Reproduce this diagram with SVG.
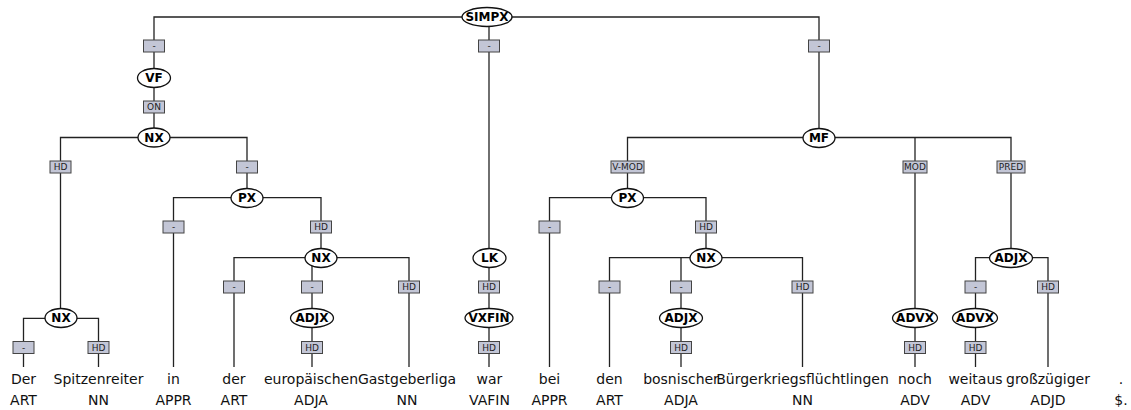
<svg xmlns="http://www.w3.org/2000/svg" width="1131" height="410" viewBox="0 0 1131 410">
<style>
.e{fill:none;stroke:#222;stroke-width:1.3}
.n ellipse{fill:#fff;stroke:#111;stroke-width:1.3}
.n text{font-family:"DejaVu Sans",sans-serif;font-weight:bold;font-size:12px;text-anchor:middle;fill:#000}
.l rect{fill:#c3c6d6;stroke:#444;stroke-width:1}
.l text{font-family:"DejaVu Sans",sans-serif;font-size:9px;text-anchor:middle;fill:#222}
.w text{font-family:"DejaVu Sans",sans-serif;font-size:14px;text-anchor:middle;fill:#111}
</style>
<rect width="1131" height="410" fill="#fff"/>
<g id="connectors" class="e">
<path d="M487,17 H154 V78"/>
<path d="M487,17 H819 V138"/>
<path d="M489,17 V258"/>
<path d="M154,78 V137.5"/>
<path d="M154,137.5 H60.5 V318"/>
<path d="M154,137.5 H247 V198"/>
<path d="M60.5,318.3 H23.5 V367"/>
<path d="M60.5,318.3 H98.5 V367"/>
<path d="M247,197.7 H173.5 V367"/>
<path d="M247,197.7 H321 V258"/>
<path d="M321,257.7 H234 V367"/>
<path d="M312,257.7 V318"/>
<path d="M321,257.7 H409 V367"/>
<path d="M312,318 V367"/>
<path d="M489,258 V318"/>
<path d="M489,318 V367"/>
<path d="M819,137.5 H627.5 V198"/>
<path d="M819,137.5 H1011 V258"/>
<path d="M915,137.5 V318"/>
<path d="M627.5,197.7 H549.5 V367"/>
<path d="M627.5,197.7 H706 V258"/>
<path d="M706,257.7 H609.5 V367"/>
<path d="M681,257.7 V318"/>
<path d="M706,257.7 H802.5 V367"/>
<path d="M681,318 V367"/>
<path d="M915,318 V367"/>
<path d="M1011,257.7 H975.5 V318"/>
<path d="M1011,257.7 H1048 V367"/>
<path d="M975.5,318 V367"/>
</g>
<g id="edge-labels" class="l">
<rect x="143.5" y="40" width="21" height="12"/><text x="154" y="49.2">-</text>
<rect x="478.5" y="40" width="21" height="12"/><text x="489" y="49.2">-</text>
<rect x="808.5" y="40" width="21" height="12"/><text x="819" y="49.2">-</text>
<rect x="143.5" y="101" width="21" height="12"/><text x="154" y="110.2">ON</text>
<rect x="50" y="161" width="21" height="12"/><text x="60.5" y="170.2">HD</text>
<rect x="236.5" y="161" width="21" height="12"/><text x="247" y="170.2">-</text>
<rect x="13" y="341.5" width="21" height="12"/><text x="23.5" y="350.7">-</text>
<rect x="88" y="341.5" width="21" height="12"/><text x="98.5" y="350.7">HD</text>
<rect x="163" y="221" width="21" height="12"/><text x="173.5" y="230.2">-</text>
<rect x="310.5" y="221" width="21" height="12"/><text x="321" y="230.2">HD</text>
<rect x="223.5" y="281" width="21" height="12"/><text x="234" y="290.2">-</text>
<rect x="301.5" y="281" width="21" height="12"/><text x="312" y="290.2">-</text>
<rect x="398.5" y="281" width="21" height="12"/><text x="409" y="290.2">HD</text>
<rect x="301.5" y="341.5" width="21" height="12"/><text x="312" y="350.7">HD</text>
<rect x="478.5" y="281" width="21" height="12"/><text x="489" y="290.2">HD</text>
<rect x="478.5" y="341.5" width="21" height="12"/><text x="489" y="350.7">HD</text>
<rect x="611" y="161" width="33" height="12"/><text x="627.5" y="170.2">V-MOD</text>
<rect x="903" y="161" width="24" height="12"/><text x="915" y="170.2">MOD</text>
<rect x="997" y="161" width="28" height="12"/><text x="1011" y="170.2">PRED</text>
<rect x="539" y="221" width="21" height="12"/><text x="549.5" y="230.2">-</text>
<rect x="695.5" y="221" width="21" height="12"/><text x="706" y="230.2">HD</text>
<rect x="599" y="281" width="21" height="12"/><text x="609.5" y="290.2">-</text>
<rect x="670.5" y="281" width="21" height="12"/><text x="681" y="290.2">-</text>
<rect x="792" y="281" width="21" height="12"/><text x="802.5" y="290.2">HD</text>
<rect x="670.5" y="341.5" width="21" height="12"/><text x="681" y="350.7">HD</text>
<rect x="904.5" y="341.5" width="21" height="12"/><text x="915" y="350.7">HD</text>
<rect x="965" y="281" width="21" height="12"/><text x="975.5" y="290.2">-</text>
<rect x="1037.5" y="281" width="21" height="12"/><text x="1048" y="290.2">HD</text>
<rect x="965" y="341.5" width="21" height="12"/><text x="975.5" y="350.7">HD</text>
</g>
<g id="n-simpx" class="n"><ellipse cx="487" cy="17" rx="25" ry="9.5"/><text x="487" y="21.3">SIMPX</text></g>
<g id="n-vf" class="n"><ellipse cx="154" cy="78" rx="16.5" ry="9.5"/><text x="154" y="82.3">VF</text></g>
<g id="n-nx1" class="n"><ellipse cx="154" cy="137.5" rx="16" ry="9.5"/><text x="154" y="141.8">NX</text></g>
<g id="n-nx2" class="n"><ellipse cx="61" cy="318" rx="16" ry="9.5"/><text x="61" y="322.3">NX</text></g>
<g id="n-px1" class="n"><ellipse cx="247" cy="198" rx="16" ry="9.5"/><text x="247" y="202.3">PX</text></g>
<g id="n-nx3" class="n"><ellipse cx="321" cy="258" rx="16" ry="9.5"/><text x="321" y="262.3">NX</text></g>
<g id="n-adjx1" class="n"><ellipse cx="312" cy="318" rx="21.5" ry="9.5"/><text x="312" y="322.3">ADJX</text></g>
<g id="n-lk" class="n"><ellipse cx="489.5" cy="258" rx="16.5" ry="9.5"/><text x="489.5" y="262.3">LK</text></g>
<g id="n-vxfin" class="n"><ellipse cx="489" cy="318" rx="24" ry="9.5"/><text x="489" y="322.3">VXFIN</text></g>
<g id="n-mf" class="n"><ellipse cx="819" cy="138" rx="16" ry="9.5"/><text x="819" y="142.3">MF</text></g>
<g id="n-px2" class="n"><ellipse cx="627.5" cy="198" rx="16" ry="9.5"/><text x="627.5" y="202.3">PX</text></g>
<g id="n-nx4" class="n"><ellipse cx="706" cy="258" rx="16" ry="9.5"/><text x="706" y="262.3">NX</text></g>
<g id="n-adjx2" class="n"><ellipse cx="681" cy="318" rx="21.5" ry="9.5"/><text x="681" y="322.3">ADJX</text></g>
<g id="n-advx1" class="n"><ellipse cx="915" cy="318" rx="22.5" ry="9.5"/><text x="915" y="322.3">ADVX</text></g>
<g id="n-adjx3" class="n"><ellipse cx="1011" cy="258" rx="21.5" ry="9.5"/><text x="1011" y="262.3">ADJX</text></g>
<g id="n-advx2" class="n"><ellipse cx="975" cy="318" rx="22.5" ry="9.5"/><text x="975" y="322.3">ADVX</text></g>
<g id="words" class="w">
<text x="23.5" y="384">Der</text><text x="23.5" y="405">ART</text>
<text x="98.5" y="384">Spitzenreiter</text><text x="98.5" y="405">NN</text>
<text x="173.5" y="384">in</text><text x="173.5" y="405">APPR</text>
<text x="234" y="384">der</text><text x="234" y="405">ART</text>
<text x="311" y="384">europäischen</text><text x="311" y="405">ADJA</text>
<text x="407" y="384">Gastgeberliga</text><text x="407" y="405">NN</text>
<text x="489.5" y="384">war</text><text x="489.5" y="405">VAFIN</text>
<text x="549.5" y="384">bei</text><text x="549.5" y="405">APPR</text>
<text x="609.5" y="384">den</text><text x="609.5" y="405">ART</text>
<text x="681" y="384">bosnischer</text><text x="681" y="405">ADJA</text>
<text x="802.5" y="384">Bürgerkriegsflüchtlingen</text><text x="802.5" y="405">NN</text>
<text x="915" y="384">noch</text><text x="915" y="405">ADV</text>
<text x="975.5" y="384">weitaus</text><text x="975.5" y="405">ADV</text>
<text x="1048" y="384">großzügiger</text><text x="1048" y="405">ADJD</text>
<text x="1121" y="384">.</text><text x="1121" y="405">$.</text>
</g>
</svg>
